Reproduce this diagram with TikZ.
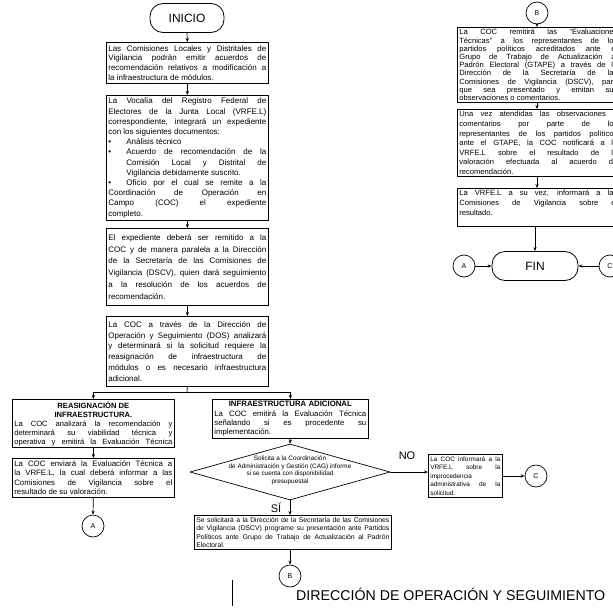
\documentclass[tikz,border=0pt]{standalone}
\usepackage{fontspec}
\setmainfont{Liberation Sans}
\usetikzlibrary{shapes.geometric,arrows.meta,positioning}
\newcommand{\bitem}[1]{\par\noindent\hangindent=18pt\hangafter=1\makebox[18pt][l]{\textbullet}#1}
\newcommand{\fs}[2]{\fontsize{#1}{#2}\selectfont\lineskiplimit=-20pt\lineskip=0pt}
\tikzset{
  box/.style={draw, line width=0.7pt, anchor=north west, inner sep=2pt, align=justify,
    font=\fs{8}{9.6}},
  rbox/.style={box, font=\fs{7.6}{8.2}},
  term/.style={draw, line width=0.8pt, rounded corners=13pt, minimum width=74pt,
    minimum height=29pt, inner sep=0pt, font=\fontsize{12}{12}\selectfont},
  conn/.style={draw, circle, line width=0.7pt, minimum size=22pt, inner sep=0pt,
    font=\fontsize{7}{7}\selectfont},
  dia/.style={draw, diamond, line width=0.7pt, inner sep=0pt, aspect=3.57,
    minimum width=200pt, minimum height=56pt},
  arr/.style={-{Stealth[length=4pt,width=3.2pt]}, line width=0.7pt},
  ln/.style={line width=0.7pt},
  lab/.style={inner sep=0pt, font=\fontsize{11}{11}\selectfont},
}
\begin{document}
\begin{tikzpicture}[x=1pt,y=-1pt]
\useasboundingbox (0,0) rectangle (613,608);
\clip (0,0) rectangle (613,608);
% ---------- left column
\node[term] (ini) at (187,18) {INICIO};
\node[box, text width=158pt, minimum height=41pt] (b1) at (106,42) {Las Comisiones Locales y Distritales de\linebreak
 Vigilancia podrán emitir acuerdos de\linebreak recomendación relativos a modificación a\linebreak
 la infraestructura de módulos.};
\node[box, text width=158pt, minimum height=125pt, font=\fs{8}{10.2}] (b2) at (106,95) {La Vocalía del Registro Federal de\linebreak
 Electores de la Junta Local (VRFE.L)\linebreak correspondiente, integrará un expediente\linebreak
 con los siguientes documentos:
 \bitem{Análisis técnico}
 \bitem{Acuerdo de recomendación de la\linebreak Comisión Local y Distrital de\linebreak Vigilancia debidamente suscrito.}
 \bitem{Oficio por el cual se remite a la\linebreak Coordinación de Operación en\linebreak Campo (COC) el expediente\linebreak completo.}};
\node[box, text width=158pt, minimum height=77pt, font=\fs{8}{11.8}] (b3) at (106,228) {El expediente deberá ser remitido a la\linebreak
 COC y de manera paralela a la Dirección\linebreak de la Secretaría de las Comisiones de\linebreak
 Vigilancia (DSCV), quien dará seguimiento\linebreak a la resolución de los acuerdos de\linebreak recomendación.};
\node[box, text width=158pt, minimum height=70pt, font=\fs{8}{10.8}] (b4) at (106,316) {La COC a través de la Dirección de\linebreak
 Operación y Seguimiento (DOS) analizará\linebreak y determinará si la solicitud requiere la\linebreak
 reasignación de infraestructura de\linebreak módulos o es necesario infraestructura\linebreak adicional.};
\draw[arr] (ini.south) -- (b1.north);
\draw[arr] (b1.south) -- (b2.north);
\draw[arr] (b2.south) -- (b3.north);
\draw[arr] (b3.south) -- (b4.north);
% ---------- branches
\node[box, text width=158pt, font=\fs{7.6}{9}] (l1) at (12,399) {{\centering\textbf{REASIGNACIÓN DE}\\\textbf{INFRAESTRUCTURA.}\par}
 {\parfillskip=0pt La COC analizará la recomendación y\linebreak determinará su viabilidad técnica y\linebreak
 operativa y emitirá la Evaluación Técnica\par}};
\node[box, text width=158pt, font=\fs{7.8}{9.6}] (l2) at (12,458) {La COC enviará la Evaluación Técnica a\linebreak
 la VRFE.L, la cual deberá informar a las\linebreak Comisiones de Vigilancia sobre el\linebreak
 resultado de su valoración.};
\node[conn] (A) at (93,526) {A};
\node[box, text width=152pt, font=\fs{7.8}{9.2}] (r1) at (212,399) {{\centering\textbf{INFRAESTRUCTURA ADICIONAL}\par}
 La COC emitirá la Evaluación Técnica\linebreak señalando si es procedente su\linebreak implementación.};
\coordinate (spl) at (187,392);
\draw[ln] (b4.south) -- (spl);
\draw[arr] (spl) -| (l1.north);
\draw[arr] (spl) -| (r1.north);
\draw[arr] (l1.south) -- (l2.north);
\draw[arr] (l2.south) -- (A.north);
\node[dia] (d) at (290,472) {\smash{\makebox[0pt]{\fontsize{6.4}{7.6}\selectfont
 \begin{tabular}{@{}c@{}}Solicita a la Coordinación\\de Administración y Gestión (CAG) informe\\
 si se cuenta con disponibilidad\\presupuestal\end{tabular}}}};
\draw[arr] (r1.south) -- (d.north);
\node[box, text width=70pt, font=\fs{6.4}{8.6}, anchor=west] (nb) at (428,476)
 {La COC informará a la\linebreak VRFE.L sobre la\linebreak improcedencia\\ administrativa de la\linebreak solicitud.};
\node[lab] (no) at (407,456) {NO};
\draw[arr] (d.east) -- (d.east -| nb.west);
\node[conn] (C) at (536,476) {C};
\draw[arr] (nb.east) -- (C.west);
\node[box, text width=193pt, font=\fs{6.8}{8.4}] (r2) at (194,515)
 {Se solicitará a la Dirección de la Secretaría de las Comisiones\linebreak de Vigilancia (DSCV) programe su presentación ante Partidos\linebreak
 Políticos ante Grupo de Trabajo de Actualización al Padrón\linebreak Electoral.};
\node[lab] (si) at (276,508) {SÍ};
\draw[arr] (d.south) -- (d.south |- r2.north);
\node[conn] (B) at (290,576) {B};
\draw[arr] (r2.south -| B.north) -- (B.north);
\draw[ln] (232,580) -- (232,606);
\node[anchor=base west, inner sep=0pt, font=\fontsize{14.2}{14.2}\selectfont] (tit) at (296,600)
 {DIRECCIÓN DE OPERACIÓN Y SEGUIMIENTO};
% ---------- right column
\node[conn] (B2) at (537,13) {B};
\node[rbox, text width=158pt] (c1) at (457,27) {La COC remitirá las ``Evaluaciones\linebreak
 Técnicas'' a los representantes de los\linebreak partidos políticos acreditados ante el\linebreak
 Grupo de Trabajo de Actualización al\linebreak Padrón Electoral (GTAPE) a través de la\linebreak
 Dirección de la Secretaría de las\linebreak Comisiones de Vigilancia (DSCV), para\linebreak
 que sea presentado y emitan sus\linebreak observaciones o comentarios.};
\node[rbox, text width=158pt, font=\fs{7.6}{9.6}] (c2) at (457,109) {Una vez atendidas las observaciones o\linebreak
 comentarios por parte de los\linebreak representantes de los partidos políticos\linebreak
 ante el GTAPE, la COC notificará a la\linebreak VRFE.L sobre el resultado de la\linebreak
 valoración efectuada al acuerdo de\linebreak recomendación.};
\node[rbox, text width=158pt, font=\fs{7.6}{9.6}] (c3) at (457,188) {La VRFE.L a su vez, informará a las\linebreak
 Comisiones de Vigilancia sobre el\linebreak resultado.\par\rule{0pt}{14pt}};
\node[term, minimum width=86pt, minimum height=29pt] (fin) at (535,266) {FIN};
\node[conn] (A2) at (464,266) {A};
\node[conn] (C2) at (610,266) {C};
\draw[arr] (B2.south) -- (B2.south |- c1.north);
\draw[arr] (c1.south -| B2.south) -- (B2.south |- c2.north);
\draw[arr] (c2.south -| B2.south) -- (B2.south |- c3.north);
\draw[arr] (c3.south -| fin.north) -- (fin.north);
\draw[arr] (A2.east) -- (fin.west);
\draw[arr] (C2.west) -- (fin.east);
\end{tikzpicture}
\end{document}
